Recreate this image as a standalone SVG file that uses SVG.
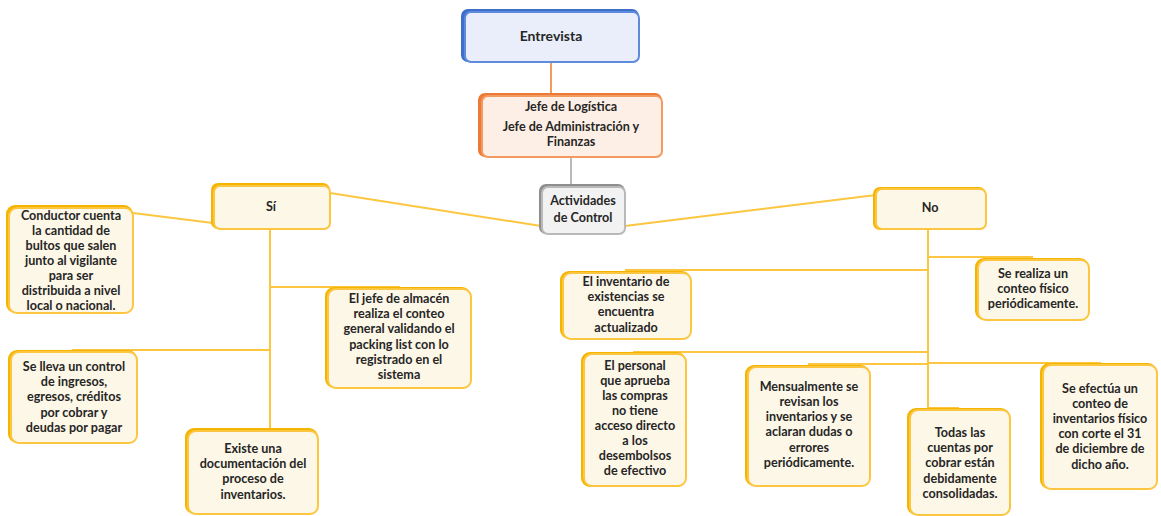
<svg xmlns="http://www.w3.org/2000/svg" width="1161" height="516" viewBox="0 0 1161 516">
  <style>
    .t { font-family: Lato, "Open Sans", "Liberation Sans", sans-serif; font-size: 12.6px; font-weight: 700; fill: #262626; text-anchor: middle; dominant-baseline: middle; }
    .big { font-size: 14px; }
    .y .sh { fill: #f5b400; stroke: #f5b400; stroke-width: 2; }
    .y .bx { fill: #fdf7e7; stroke: #fcc640; stroke-width: 2; }
    .b .sh { fill: #3d6fcb; stroke: #3d6fcb; stroke-width: 2; }
    .b .bx { fill: #e9eefa; stroke: #5f8bdc; stroke-width: 2; }
    .o .sh { fill: #ec7a36; stroke: #ec7a36; stroke-width: 2; }
    .o .bx { fill: #fdefe5; stroke: #f39a60; stroke-width: 2; }
    .g .sh { fill: #8e8e8e; stroke: #8e8e8e; stroke-width: 2; }
    .g .bx { fill: #f2f2f2; stroke: #b9b9b9; stroke-width: 2; }
    .c { fill: none; stroke: #fcc640; stroke-width: 2; }
  </style>

  <!-- connectors -->
  <g id="connectors">
    <path d="M551 62 V95" fill="none" stroke="#f39a60" stroke-width="2"/>
    <path d="M571 157 V186" fill="none" stroke="#b9b9b9" stroke-width="2"/>
    <path class="c" d="M541 226 L330 193"/>
    <path class="c" d="M625 226 L876 195"/>
    <!-- Sí branches -->
    <path class="c" d="M213 223 L133 213"/>
    <path class="c" d="M270 229 V429 H253"/>
    <path class="c" d="M270 287 H399 V289"/>
    <path class="c" d="M270 350 H73 V352"/>
    <!-- No branches -->
    <path class="c" d="M928 229 V408 H959"/>
    <path class="c" d="M928 257 H1032 V260"/>
    <path class="c" d="M928 270 H626 V273"/>
    <path class="c" d="M928 352 H634 V354"/>
    <path class="c" d="M928 364 H809 V367"/>
    <path class="c" d="M928 363 H1100 V365"/>
  </g>

  <g id="entrevista" class="b">
    <rect class="sh" x="462" y="10" width="176" height="51" rx="6"/>
    <rect class="bx" x="465" y="12" width="174" height="50" rx="6"/>
    <text class="t big" x="551" y="37">Entrevista</text>
  </g>

  <g id="jefes" class="o">
    <rect class="sh" x="479" y="94" width="182" height="62" rx="6"/>
    <rect class="bx" x="482" y="96" width="180" height="61" rx="6"/>
    <text class="t" x="571" y="108">Jefe de Logística</text>
    <text class="t" x="571" y="128">Jefe de Administración y</text>
    <text class="t" x="571" y="143">Finanzas</text>
  </g>

  <g id="actividades" class="g">
    <rect class="sh" x="540" y="185" width="84" height="48" rx="6"/>
    <rect class="bx" x="542" y="187" width="83" height="47" rx="6"/>
    <text class="t" x="583" y="202">Actividades</text>
    <text class="t" x="583" y="219">de Control</text>
  </g>

  <g id="si" class="y">
    <rect class="sh" x="212" y="184" width="117" height="44" rx="6"/>
    <rect class="bx" x="214" y="186" width="116" height="43" rx="6"/>
    <text class="t" x="271" y="208">Sí</text>
  </g>

  <g id="no" class="y">
    <rect class="sh" x="874" y="188" width="111" height="41" rx="6"/>
    <rect class="bx" x="876" y="189" width="110" height="40" rx="6"/>
    <text class="t" x="930" y="209">No</text>
  </g>

  <g id="conductor" class="y">
    <rect class="sh" x="7" y="206" width="125" height="106" rx="8"/>
    <rect class="bx" x="9" y="208" width="124" height="105" rx="8"/>
    <text class="t" x="71" y="217">Conductor cuenta</text>
    <text class="t" x="71" y="232">la cantidad de</text>
    <text class="t" x="71" y="247">bultos que salen</text>
    <text class="t" x="71" y="262">junto al vigilante</text>
    <text class="t" x="71" y="277">para ser</text>
    <text class="t" x="71" y="292">distribuida a nivel</text>
    <text class="t" x="71" y="307">local o nacional.</text>
  </g>

  <g id="jefe-almacen" class="y">
    <rect class="sh" x="326" y="288" width="144" height="99" rx="8"/>
    <rect class="bx" x="328" y="289" width="143" height="99" rx="8"/>
    <text class="t" x="399" y="300">El jefe de almacén</text>
    <text class="t" x="399" y="315">realiza el conteo</text>
    <text class="t" x="399" y="330">general validando el</text>
    <text class="t" x="399" y="346">packing list con lo</text>
    <text class="t" x="399" y="361">registrado en el</text>
    <text class="t" x="399" y="376">sistema</text>
  </g>

  <g id="control-ingresos" class="y">
    <rect class="sh" x="9" y="351" width="127" height="91" rx="8"/>
    <rect class="bx" x="11" y="352" width="126" height="91" rx="8"/>
    <text class="t" x="74" y="368">Se lleva un control</text>
    <text class="t" x="74" y="383">de ingresos,</text>
    <text class="t" x="74" y="398">egresos, créditos</text>
    <text class="t" x="74" y="414">por cobrar y</text>
    <text class="t" x="74" y="429">deudas por pagar</text>
  </g>

  <g id="documentacion" class="y">
    <rect class="sh" x="186" y="429" width="131" height="84" rx="8"/>
    <rect class="bx" x="188" y="431" width="130" height="83" rx="8"/>
    <text class="t" x="253" y="450">Existe una</text>
    <text class="t" x="253" y="465">documentación del</text>
    <text class="t" x="253" y="480">proceso de</text>
    <text class="t" x="253" y="496">inventarios.</text>
  </g>

  <g id="conteo-periodico" class="y">
    <rect class="sh" x="976" y="259" width="112" height="60" rx="8"/>
    <rect class="bx" x="978" y="260" width="111" height="60" rx="8"/>
    <text class="t" x="1033" y="275">Se realiza un</text>
    <text class="t" x="1033" y="290">conteo físico</text>
    <text class="t" x="1033" y="305">periódicamente.</text>
  </g>

  <g id="inventario-existencias" class="y">
    <rect class="sh" x="561" y="272" width="129" height="66" rx="8"/>
    <rect class="bx" x="563" y="273" width="128" height="66" rx="8"/>
    <text class="t" x="626" y="283">El inventario de</text>
    <text class="t" x="626" y="298">existencias se</text>
    <text class="t" x="626" y="313">encuentra</text>
    <text class="t" x="626" y="329">actualizado</text>
  </g>

  <g id="personal-compras" class="y">
    <rect class="sh" x="582" y="353" width="103" height="133" rx="8"/>
    <rect class="bx" x="584" y="354" width="102" height="132" rx="8"/>
    <text class="t" x="635" y="367">El personal</text>
    <text class="t" x="635" y="382">que aprueba</text>
    <text class="t" x="635" y="397">las compras</text>
    <text class="t" x="635" y="412">no tiene</text>
    <text class="t" x="635" y="427">acceso directo</text>
    <text class="t" x="635" y="442">a los</text>
    <text class="t" x="635" y="457">desembolsos</text>
    <text class="t" x="635" y="472">de efectivo</text>
  </g>

  <g id="revision-mensual" class="y">
    <rect class="sh" x="746" y="366" width="123" height="119" rx="8"/>
    <rect class="bx" x="748" y="367" width="122" height="119" rx="8"/>
    <text class="t" x="809" y="388">Mensualmente se</text>
    <text class="t" x="809" y="403">revisan los</text>
    <text class="t" x="809" y="418">inventarios y se</text>
    <text class="t" x="809" y="433">aclaran dudas o</text>
    <text class="t" x="809" y="449">errores</text>
    <text class="t" x="809" y="464">periódicamente.</text>
  </g>

  <g id="cuentas-cobrar" class="y">
    <rect class="sh" x="908" y="409" width="101" height="105" rx="8"/>
    <rect class="bx" x="910" y="410" width="100" height="105" rx="8"/>
    <text class="t" x="960" y="434">Todas las</text>
    <text class="t" x="960" y="449">cuentas por</text>
    <text class="t" x="960" y="464">cobrar están</text>
    <text class="t" x="960" y="480">debidamente</text>
    <text class="t" x="960" y="495">consolidadas.</text>
  </g>

  <g id="conteo-anual" class="y">
    <rect class="sh" x="1041" y="364" width="115" height="124" rx="8"/>
    <rect class="bx" x="1043" y="365" width="114" height="124" rx="8"/>
    <text class="t" x="1100" y="390">Se efectúa un</text>
    <text class="t" x="1100" y="405">conteo de</text>
    <text class="t" x="1100" y="420">inventarios físico</text>
    <text class="t" x="1100" y="435">con corte el 31</text>
    <text class="t" x="1100" y="450">de diciembre de</text>
    <text class="t" x="1100" y="466">dicho año.</text>
  </g>
</svg>
